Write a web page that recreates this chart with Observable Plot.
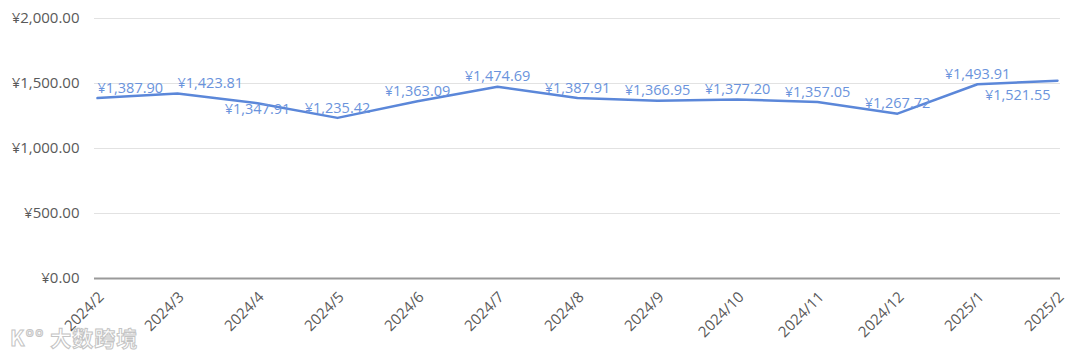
<!DOCTYPE html>
<html>
<head>
<meta charset="utf-8">
<script src="https://cdn.jsdelivr.net/npm/d3@7"></script>
<script src="https://cdn.jsdelivr.net/npm/@observablehq/plot@0.6"></script>
<style>
  html, body { margin: 0; padding: 0; background: #fff; }
  #wrap { position: relative; width: 1080px; height: 357px; }
  #wm { position: absolute; left: 10px; top: 322px; font-family: "Noto Sans CJK SC", sans-serif; font-size: 21px; font-weight: 700; color: rgba(255,255,255,0.9); -webkit-text-stroke: 1px #c4c4c4; letter-spacing: 1px; }
</style>
</head>
<body>
<div id="wrap"><div id="chart"></div><div id="wm">K°° 大数跨境</div></div>
<script>
const months = ["2024/2","2024/3","2024/4","2024/5","2024/6","2024/7","2024/8","2024/9","2024/10","2024/11","2024/12","2025/1","2025/2"];
const values = [1387.90, 1423.81, 1347.91, 1235.42, 1363.09, 1474.69, 1387.91, 1366.95, 1377.20, 1357.05, 1267.72, 1493.91, 1521.55];
const yTicks = [0, 500, 1000, 1500, 2000];

const data = months.map((m, i) => ({month: m, value: values[i], i}));
const fmt = v => "¥" + d3.format(",.2f")(v);
const n = data.length;
const font = "'Open Sans', 'Noto Sans', sans-serif";
const labelColor = "#6a93dc";
const lf = 14.5;

const startLabels = data.filter(d => d.i <= 1);
const belowLabels = data.filter(d => d.month === "2024/4");
const endLabels = data.filter(d => d.i === n - 1);
const midLabels = data.filter(d => d.i > 1 && d.i < n - 1 && d.month !== "2024/4");

const chart = Plot.plot({
  width: 1080,
  height: 357,
  marginLeft: 94,
  marginRight: 20,
  marginTop: 18,
  marginBottom: 79,
  style: {fontFamily: font, fontSize: "15px", color: "#595959", background: "#fff"},
  x: {type: "point", domain: months, padding: 0},
  y: {domain: [0, 2000], ticks: yTicks},
  marks: [
    Plot.gridY(yTicks.filter(t => t > 0), {stroke: "#e2e2e2", strokeOpacity: 1, strokeWidth: 1}),
    Plot.ruleY([0], {stroke: "#9a9a9a", strokeWidth: 2}),
    Plot.axisY(yTicks, {tickFormat: fmt, label: null, tickSize: 0, tickPadding: 15}),
    Plot.axisX({label: null, tickSize: 0, tickRotate: -45, tickPadding: 12, dx: 4, dy: 4}),
    Plot.line(data, {x: "month", y: "value", stroke: "#5b87d9", strokeWidth: 2.5}),
    Plot.text(startLabels, {x: "month", y: "value", text: d => fmt(d.value), textAnchor: "start", dy: -10, fill: labelColor, fontSize: lf}),
    Plot.text(midLabels, {x: "month", y: "value", text: d => fmt(d.value), dy: -10, fill: labelColor, fontSize: lf}),
    Plot.text(belowLabels, {x: "month", y: "value", text: d => fmt(d.value), dy: 6, fill: labelColor, fontSize: lf}),
    Plot.text(endLabels, {x: "month", y: "value", text: d => fmt(d.value), textAnchor: "end", dx: -7, dy: 15, fill: labelColor, fontSize: lf})
  ]
});
document.getElementById("chart").appendChild(chart);
</script>
</body>
</html>
